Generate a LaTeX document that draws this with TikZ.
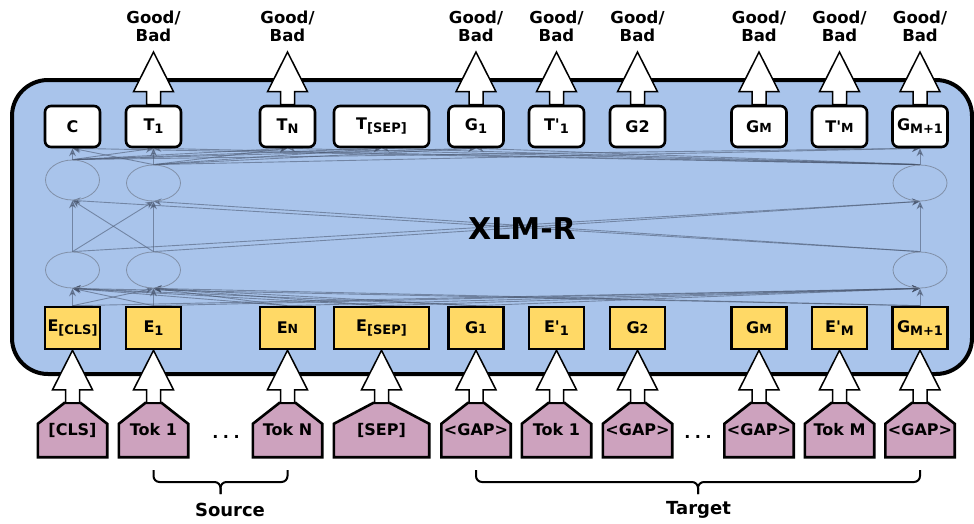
\documentclass[tikz,border=0pt]{standalone}
\usepackage{fontspec}
\setmainfont{DejaVu Sans}
\usetikzlibrary{arrows.meta,calc,shapes.geometric}
\pgfdeclarelayer{back}
\pgfdeclarelayer{mid}
\pgfsetlayers{back,mid,main}
\definecolor{bgblue}{HTML}{A9C4EB}
\definecolor{tokyel}{HTML}{FFD966}
\definecolor{tokpur}{HTML}{CDA2BE}
\definecolor{webgray}{HTML}{46536B}
\definecolor{cellgray}{HTML}{8190A8}
\newcommand\mysub[1]{\raisebox{-3pt}{\fontsize{13}{13}\selectfont #1}}
\newcommand\mysm[1]{{\fontsize{12.5}{12.5}\selectfont #1}}
\newcommand\barrow[2]{%
  \path[blockarr] let \p1=(#1), \p2=(#2) in
    (\x1-7pt,\y1) -- (\x1-7pt,\y1+13pt) -- (\x1-20pt,\y1+13pt) -- (\x1,\y2)
    -- (\x1+20pt,\y1+13pt) -- (\x1+7pt,\y1+13pt) -- (\x1+7pt,\y1) -- cycle;}
\newcommand\housepoly[1]{%
  \path[housefill] (#1.south west) -- ($(#1.north west)+(0,21)$) -- ($(#1.north)+(-8,0)$)
    -- ($(#1.north)+(8,0)$) -- ($(#1.north east)+(0,21)$) -- (#1.south east) -- cycle;}
\tikzset{
  outbox/.style={draw=black, line width=2.6pt, fill=white, rounded corners=6pt,
    minimum width=55pt, minimum height=41pt, inner sep=0pt,
    font=\bfseries\fontsize{16}{16}\selectfont},
  embbox/.style={draw=black, line width=2.6pt, fill=tokyel,
    minimum width=55pt, minimum height=42pt, inner sep=0pt,
    font=\bfseries\fontsize{16}{16}\selectfont},
  housebox/.style={minimum width=69pt, minimum height=54pt, inner sep=0pt,
    font=\bfseries\fontsize{16}{16}\selectfont},
  housefill/.style={fill=tokpur, draw=black, line width=2.6pt, line join=miter},
  blockarr/.style={fill=white, draw=black, line width=1.5pt, line join=miter},
  cell/.style={ellipse, draw=cellgray, line width=0.8pt, minimum width=54pt,
    minimum height=36pt, inner sep=0pt},
  web/.style={draw=webgray, opacity=0.55, line width=0.9pt,
    -{Stealth[length=8pt,width=7pt]}},
  gb/.style={align=center, inner sep=0pt, font=\bfseries\fontsize{16.5}{18}\selectfont},
  bracepath/.style={draw=black, line width=2pt, rounded corners=6pt},
  bracelabel/.style={inner sep=0pt, font=\bfseries\fontsize{18}{18}\selectfont},
}
\begin{document}
\begin{tikzpicture}[x=1pt,y=-1pt]
\useasboundingbox (0,0) rectangle (974,523);
\begin{pgfonlayer}{back}
  \draw[fill=bgblue, line width=4pt, rounded corners=36pt] (12,80) rectangle (972,374);
\end{pgfonlayer}

% output boxes
\node[outbox] (tc)   at (72.5,126.5) {C};
\node[outbox] (tt1)  at (153.5,126.5) {T\mysub{1}};
\node[outbox] (ttn)  at (287.5,126.5) {T\mysub{N}};
\node[outbox, minimum width=95pt] (ttsep) at (381.5,126.5) {T\mysub{[SEP]}};
\node[outbox] (tg1)  at (476,126.5) {G\mysub{1}};
\node[outbox] (tpt1) at (556.5,126.5) {T\textquotesingle\mysub{1}};
\node[outbox] (tg2)  at (637.5,126.5) {G2};
\node[outbox] (tgm)  at (759,126.5) {G\mysm{M}};
\node[outbox] (tptm) at (839.5,126.5) {T\textquotesingle\mysm{M}};
\node[outbox] (tgm1) at (920,126.5) {G\mysub{M+1}};

% transformer cells
\node[cell, minimum height=40pt] (ua) at (72.5,180) {};
\node[cell] (ub) at (153.5,183) {};
\node[cell] (uc) at (920,183) {};
\node[cell] (la) at (72.5,270) {};
\node[cell] (lb) at (153.5,270) {};
\node[cell] (lc) at (920,270) {};

\node[inner sep=0pt, font=\bfseries\fontsize{30}{30}\selectfont] (xlmr) at (522,229) {XLM-R};

% embedding boxes
\node[embbox] (ecls) at (72.5,328) {E\mysub{[CLS]}};
\node[embbox] (ee1)  at (153.5,328) {E\mysub{1}};
\node[embbox] (een)  at (287.5,328) {E\mysm{N}};
\node[embbox, minimum width=95pt] (eesep) at (381.5,328) {E\mysub{[SEP]}};
\node[embbox] (eg1)  at (476,328) {G\mysm{1}};
\node[embbox] (ept1) at (556.5,328) {E\textquotesingle\mysub{1}};
\node[embbox] (eg2)  at (637.5,328) {G\mysm{2}};
\node[embbox] (egm)  at (759,328) {G\mysm{M}};
\node[embbox] (eptm) at (839.5,328) {E\textquotesingle\mysub{M}};
\node[embbox] (egm1) at (920,328) {G\mysub{M+1}};

% input tokens
\node[housebox] (hcls)  at (72.5,430) {[CLS]};
\node[housebox] (htok1) at (153.5,430) {Tok 1};
\node[housebox] (htokn) at (287.5,430) {Tok N};
\node[housebox, minimum width=95pt] (hsep) at (381.5,430) {[SEP]};
\node[housebox] (hg1)   at (476,430) {<GAP>};
\node[housebox] (htp1)  at (556.5,430) {Tok 1};
\node[housebox] (hg2)   at (637.5,430) {<GAP>};
\node[housebox] (hgm)   at (759,430) {<GAP>};
\node[housebox] (htm)   at (839.5,430) {Tok M};
\node[housebox] (hgm1)  at (920,430) {<GAP>};

\node[housebox, minimum width=30pt] (dots1) at (226,437) {.\hspace{4.5pt}.\hspace{4.5pt}.};
\node[housebox, minimum width=30pt] (dots2) at (698,437) {.\hspace{4.5pt}.\hspace{4.5pt}.};

% Good/Bad labels
\coordinate (tipline) at (0,52);
\foreach \n/\x in {gb1/153.5, gb2/287.5, gb3/476, gb4/556.5, gb5/637.5, gb6/759, gb7/839.5, gb8/920}
  \node[gb] (\n) at (\x,26) {Good/\\Bad};

\begin{pgfonlayer}{mid}
  % house shapes
  \foreach \h in {hcls,htok1,htokn,hsep,hg1,htp1,hg2,hgm,htm,hgm1}
    \housepoly{\h};
  % input arrows
  \barrow{hcls.north}{ecls.south}
  \barrow{htok1.north}{ee1.south}
  \barrow{htokn.north}{een.south}
  \barrow{hsep.north}{eesep.south}
  \barrow{hg1.north}{eg1.south}
  \barrow{htp1.north}{ept1.south}
  \barrow{hg2.north}{eg2.south}
  \barrow{hgm.north}{egm.south}
  \barrow{htm.north}{eptm.south}
  \barrow{hgm1.north}{egm1.south}
  % output arrows
  \foreach \t in {tt1,ttn,tg1,tpt1,tg2,tgm,tptm,tgm1}
    \barrow{\t.north}{\t.north |- tipline};
  % network connections
  \foreach \s in {ecls,ee1,een,eesep,eg1,egm1}
    \foreach \t in {la,lb,lc}
      \draw[web] (\s.north) -- (\t.south);
  \foreach \s in {la,lb,lc}
    \foreach \t in {ua,ub,uc}
      \draw[web] (\s.north) -- (\t.south);
  \foreach \s in {ua,ub,uc}
    \foreach \t in {tc,tt1,ttn,ttsep,tg1,tgm1}
      \draw[web] (\s.north) -- (\t.south);
\end{pgfonlayer}

% braces
\draw[bracepath] (153.5,470) -- (153.5,482) -- (220.5,482) -- (220.5,494);
\draw[bracepath] (287.5,470) -- (287.5,482) -- (220.5,482) -- (220.5,494);
\draw[bracepath] (476,470) -- (476,482) -- (698,482) -- (698,494);
\draw[bracepath] (920,470) -- (920,482) -- (698,482) -- (698,494);
\node[bracelabel] (src) at (230,510) {Source};
\node[bracelabel] (tgt) at (698.5,510) {Target};
\end{tikzpicture}
\end{document}
